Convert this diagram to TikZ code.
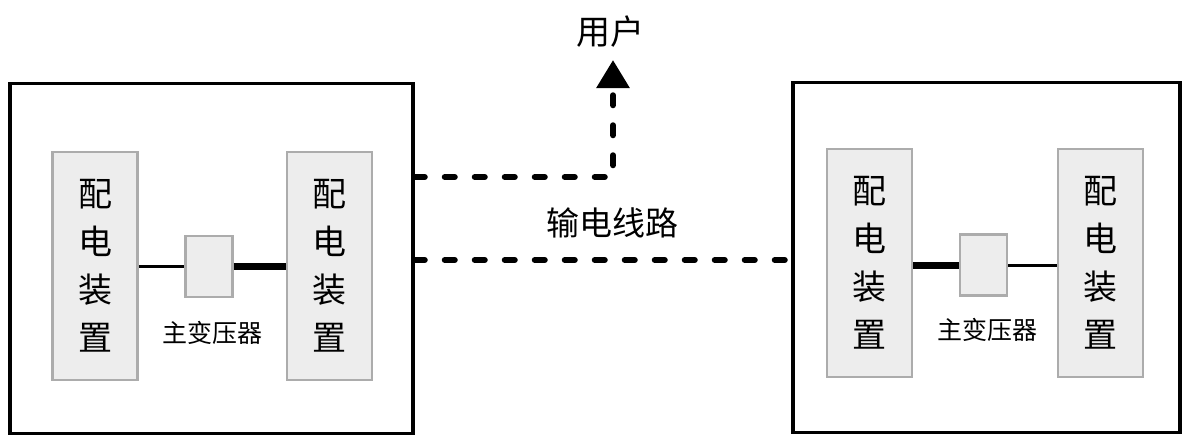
\documentclass[tikz,border=0pt]{standalone}
\usepackage{fontspec}
\newfontfamily\cjk{Noto Sans CJK SC}
\usetikzlibrary{arrows.meta,positioning}

\begin{document}
\begin{tikzpicture}[x=1pt,y=-1pt,
    station/.style={draw,line width=3.5pt,minimum width=#1,minimum height=350pt,inner sep=0pt},
    device/.style={draw=gray!65,fill=gray!14,line width=2.5pt,minimum width=85pt,minimum height=228pt,inner sep=0pt,align=center,font=\cjk\fontsize{34}{48}\selectfont},
    trafo/.style={draw=gray!65,fill=gray!14,line width=2.5pt,minimum width=47pt,minimum height=61pt,inner sep=0pt},
    lbl/.style={font=\cjk\fontsize{#1}{#1}\selectfont,inner sep=0pt},
    feeder/.style={line width=6pt,dash pattern=on 10pt off 20pt,line cap=round}]
    \useasboundingbox (0,0) rectangle (1182,437);
    \node[station=403pt] (stL) at (211.5,258.5) {};
    \node[station=387pt] (stR) at (986.5,257.5) {};

    \node[device] (pdA) at (95,266) {配\\电\\装\\置};
    \node[device] (pdB) at (329.5,266) {配\\电\\装\\置};
    \node[trafo] (tfL) at (209,266.5) {};
    \node[lbl=25] (tfLlbl) at (212,333) {主变压器};
    \draw[line width=3pt] (pdA.east |- tfL) -- (tfL.west);
    \draw[line width=7pt] (tfL.east) -- (pdB.west |- tfL);

    \node[device] (pdC) at (869.5,263) {配\\电\\装\\置};
    \node[device] (pdD) at (1100.5,263) {配\\电\\装\\置};
    \node[trafo] (tfR) at (983.5,265) {};
    \node[lbl=25] (tfRlbl) at (987,330) {主变压器};
    \draw[line width=7pt] (pdC.east |- tfR) -- (tfR.west);
    \draw[line width=3pt] (tfR.east) -- (pdD.west |- tfR);

    \node[lbl=34] (user) at (610,32) {用户};
    \coordinate (tap) at (stL.east |- 0,177);
    \coordinate (bend) at (613,177);
    \draw[feeder,-{Triangle[width=32pt,length=28pt]}] (tap) -- (bend) -- (bend |- user.south) [shorten >=12pt];

    \node[lbl=33] (linelbl) at (612,223) {输电线路};
    \coordinate (lineA) at (stL.east |- 0,260);
    \coordinate (lineB) at (stR.west |- 0,260);
    \draw[feeder] (lineA) -- (lineB);
\end{tikzpicture}
\end{document}
